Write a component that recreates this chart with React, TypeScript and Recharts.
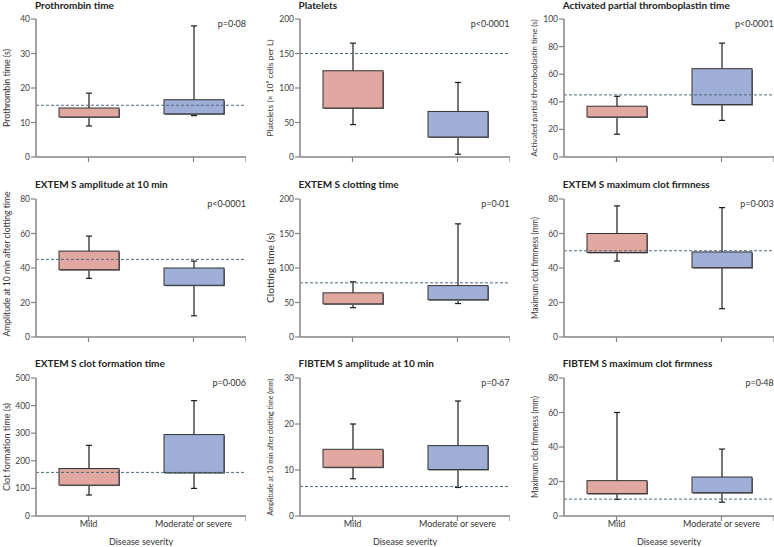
import React from "react";
import { ComposedChart, Bar, Cell, XAxis, YAxis, ReferenceLine } from "recharts";

// Box = interquartile range, whiskers = min to max, per disease severity group.
const severities = ["Mild", "Moderate or severe"];

// [min, q1, q3, max] for mild, then moderate or severe
const prothrombin = [[9, 11.6, 14.2, 18.5], [12, 12.5, 16.6, 38]];
const platelets = [[47, 71, 125, 165], [4, 29, 66, 108]];
const aptt = [[16.5, 29, 36.8, 44], [26.5, 38, 64, 82.5]];
const extemA10 = [[34, 39, 49.8, 58.5], [12.3, 30, 40, 44]];
const extemCt = [[42.5, 48, 64, 80], [48.5, 54, 74.5, 164]];
const extemMcf = [[44, 49, 60, 76], [16.4, 40.2, 49.3, 75]];
const extemCft = [[76, 112, 172, 256], [100, 157, 295, 418]];
const fibtemA10 = [[8.1, 10.6, 14.5, 20], [6.2, 10.1, 15.3, 25]];
const fibtemMcf = [[9.6, 13, 20.5, 60], [8, 13.5, 22.6, 38.8]];

const titles = [
  "Prothrombin time",
  "Platelets",
  "Activated partial thromboplastin time",
  "EXTEM S amplitude at 10 min",
  "EXTEM S clotting time",
  "EXTEM S maximum clot firmness",
  "EXTEM S clot formation time",
  "FIBTEM S amplitude at 10 min",
  "FIBTEM S maximum clot firmness",
];
const yLabels = [
  "Prothrombin time (s)",
  "Platelets (× 10⁹ cells per L)",
  "Activated partial thromboplastin time (s)",
  "Amplitude at 10 min after clotting time",
  "Clotting time (s)",
  "Maximum clot firmness (mm)",
  "Clot formation time (s)",
  "Amplitude at 10 min after clotting time (mm)",
  "Maximum clot firmness (mm)",
];
const pValues = ["p=0·08", "p<0·0001", "p<0·0001", "p<0·0001", "p=0·01", "p=0·003", "p=0·006", "p=0·67", "p=0·48"];
// dashed line: limit of the normal range
const normalLimits = [15, 150, 45, 45, 78.5, 50, 158, 6.4, 9.8];
const yTicks = [
  [0, 10, 20, 30, 40],
  [0, 50, 100, 150, 200],
  [0, 20, 40, 60, 80, 100],
  [0, 20, 40, 60, 80],
  [0, 50, 100, 150, 200],
  [0, 20, 40, 60, 80],
  [0, 100, 200, 300, 400, 500],
  [0, 10, 20, 30],
  [0, 20, 40, 60, 80],
];

const allStats = [prothrombin, platelets, aptt, extemA10, extemCt, extemMcf, extemCft, fibtemA10, fibtemMcf];
// rotated y label styling: font size and on-screen length (original font is narrow)
const labelSizes = [9, 8, 8, 9, 9, 9, 9, 7.4, 9];
const labelLengths = [78, 97, 137, 145, 70, 102, 88, 137, 102];
const labelShift = [0, 0, 0, -4, 0, 0, 0, 0, 0];

const colors = ["#e1a7a1", "#9eaed7"];
const AXIS = "#858585";
const colLeft = [0, 263.5, 527.7];
const rowTop = [0, 179.5, 359];

const Whisker = (props: any) => {
  const { x, y, width, height } = props;
  const cx = x + width / 2;
  return (
    <g stroke="#1c1c1c" strokeWidth={1.2}>
      <line x1={cx} x2={cx} y1={y} y2={y + height} />
      <line x1={cx - 3} x2={cx + 3} y1={y} y2={y} />
      <line x1={cx - 3} x2={cx + 3} y1={y + height} y2={y + height} />
    </g>
  );
};

const Box = (props: any) => {
  const { x, y, width, height, fill } = props;
  return (
    <g>
      <rect x={x + 1} y={y + 1} width={width} height={height} fill="#6d6d6d" />
      <rect x={x} y={y} width={width} height={height} fill={fill} stroke="#333" strokeWidth={1} />
    </g>
  );
};

function Panel({ idx }: { idx: number }) {
  const row = Math.floor(idx / 3);
  const col = idx % 3;
  const last = row === 2;
  const stats = allStats[idx];
  const data = severities.map((s, i) => ({
    pos: i + 0.5,
    whisker: [stats[i][0], stats[i][3]],
    box: [stats[i][1], stats[i][2]],
  }));
  const ticks = yTicks[idx];
  const left = colLeft[col];
  const top = rowTop[row];

  return (
    <>
      <div
        style={{
          position: "absolute",
          left: left + 35,
          top: Math.max(0, top - 1),
          lineHeight: "11px",
          fontSize: 10,
          fontWeight: 700,
          color: "#222",
          whiteSpace: "nowrap",
        }}
      >
        {titles[idx]}
      </div>
      <div
        style={{
          position: "absolute",
          left: left + 36,
          width: 210,
          top: top + 18,
          lineHeight: "12px",
          fontSize: 9,
          color: "#333",
          textAlign: "right",
        }}
      >
        {pValues[idx]}
      </div>
      <div style={{ position: "absolute", left, top }}>
        <ComposedChart
          width={246}
          height={last ? 187 : 167}
          data={data}
          margin={{ top: 19, right: 0, left: 0, bottom: 0 }}
          barSize={60}
          barGap={-60}
        >
          <XAxis
            dataKey="pos"
            type="number"
            domain={[0, 2]}
            ticks={[0.5, 1.5, 2]}
            interval={0}
            height={last ? 30 : 10}
            tickSize={5}
            tickMargin={0}
            axisLine={{ stroke: AXIS, strokeWidth: 1.5 }}
            tickLine={{ stroke: AXIS, strokeWidth: 1.2 }}
            tick={{ fontSize: 9, fill: "#333" }}
            tickFormatter={(v: number) => (last && v < 2 ? severities[Math.floor(v)] : "")}
            label={
              last
                ? {
                    content: (p: any) => {
                      const vb = p.viewBox;
                      return (
                        <text
                          x={vb.x + vb.width / 2}
                          y={vb.y + 25.5}
                          textAnchor="middle"
                          dominantBaseline="central"
                          fontSize={9}
                          fill="#333"
                        >
                          Disease severity
                        </text>
                      );
                    },
                  }
                : undefined
            }
          />
          <YAxis
            type="number"
            domain={[0, ticks[ticks.length - 1]]}
            ticks={ticks}
            interval={0}
            width={36}
            tickSize={5}
            tickMargin={1}
            axisLine={{ stroke: AXIS, strokeWidth: 1.5 }}
            tickLine={{ stroke: AXIS, strokeWidth: 1.2 }}
            tick={{ fontSize: 8.5, fill: "#444" }}
            label={{
              content: (p: any) => {
                const vb = p.viewBox;
                const cx = vb.x + 6;
                const cy = vb.y + vb.height / 2 + labelShift[idx];
                return (
                  <text
                    x={cx}
                    y={cy}
                    transform={`rotate(-90 ${cx} ${cy})`}
                    textAnchor="middle"
                    dominantBaseline="central"
                    fontSize={labelSizes[idx]}
                    textLength={labelLengths[idx]}
                    lengthAdjust="spacingAndGlyphs"
                    fill="#333"
                  >
                    {yLabels[idx]}
                  </text>
                );
              },
            }}
          />
          <Bar dataKey="whisker" shape={<Whisker />} isAnimationActive={false} />
          <Bar dataKey="box" shape={<Box />} isAnimationActive={false}>
            {data.map((d, i) => (
              <Cell key={i} fill={colors[i]} />
            ))}
          </Bar>
          <ReferenceLine y={normalLimits[idx]} stroke="#4d6b7c" strokeWidth={1} strokeDasharray="3 2" />
        </ComposedChart>
      </div>
    </>
  );
}

export default function App() {
  return (
    <div
      style={{
        position: "absolute",
        left: 0,
        top: 0,
        width: 774,
        height: 547,
        overflow: "hidden",
        background: "#fff",
        fontFamily: "Lato, 'Open Sans', sans-serif",
      }}
    >
      {titles.map((t, i) => (
        <Panel key={t} idx={i} />
      ))}
    </div>
  );
}
